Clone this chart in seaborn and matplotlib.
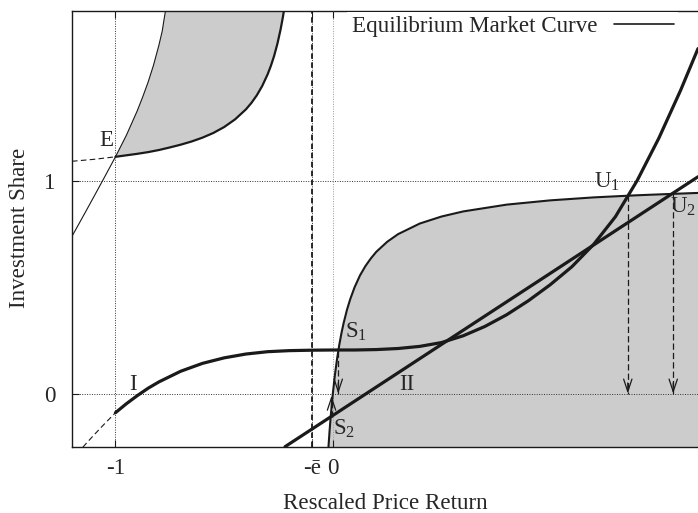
import matplotlib
matplotlib.use('Agg')
import matplotlib.pyplot as plt
import seaborn as sns
from matplotlib.lines import Line2D

# ---------------- data ----------------
ebar = 0.097  # position of the -e_bar asymptote

# thin curve on the left (through E)
c_x = [-1.2, -1.15, -1.1, -1.05, -1.0, -0.95, -0.9, -0.875, -0.85, -0.825, -0.8,
       -0.785, -0.775, -0.76]
c_y = [0.74, 0.832, 0.925, 1.019, 1.114, 1.215, 1.33, 1.395, 1.465, 1.545, 1.64,
       1.705, 1.77, 1.86]

# equilibrium curve, left branch (solid from E upward)
hl_x = [-1.0, -0.95, -0.9, -0.85, -0.8, -0.75, -0.7, -0.65, -0.6, -0.55, -0.5,
        -0.45, -0.4, -0.375, -0.35, -0.325, -0.3, -0.285, -0.27, -0.255, -0.24,
        -0.23, -0.22]
hl_y = [1.114, 1.121, 1.128, 1.136, 1.146, 1.158, 1.171, 1.186, 1.204, 1.226,
        1.254, 1.29, 1.337, 1.367, 1.403, 1.447, 1.502, 1.542, 1.589, 1.646,
        1.715, 1.77, 1.833]
# dashed continuation of the left branch
hd_x = [-1.2, -1.1, -1.0]
hd_y = [1.093, 1.102, 1.114]

# equilibrium curve, right branch
hr_x = [-0.02, -0.015, -0.01, -0.005, 0.0, 0.01, 0.02, 0.03, 0.04, 0.05, 0.065,
        0.08, 0.1, 0.125, 0.15, 0.175, 0.2, 0.25, 0.3, 0.4, 0.5, 0.6, 0.8, 1.0,
        1.2, 1.4, 1.6, 1.68]
hr_y = [-0.25, -0.176, -0.111, -0.053, 0.0, 0.091, 0.167, 0.231, 0.286, 0.333,
        0.394, 0.444, 0.5, 0.556, 0.6, 0.636, 0.667, 0.714, 0.75, 0.8, 0.833,
        0.857, 0.889, 0.909, 0.923, 0.933, 0.941, 0.944]

# curve I (thick)
d_x = [-1.0, -0.95, -0.9, -0.85, -0.8, -0.7, -0.6, -0.5, -0.4, -0.3, -0.2, -0.1,
       0.0, 0.1, 0.2, 0.3, 0.4, 0.5, 0.6, 0.7, 0.8, 0.9, 1.0, 1.1, 1.2, 1.3,
       1.4, 1.5, 1.6, 1.68]
d_y = [-0.09, -0.048, -0.01, 0.025, 0.055, 0.105, 0.142, 0.168, 0.186, 0.197,
       0.202, 0.204, 0.205, 0.205, 0.207, 0.212, 0.222, 0.240, 0.272, 0.316,
       0.371, 0.437, 0.512, 0.597, 0.702, 0.832, 1.002, 1.202, 1.427, 1.623]
# dashed continuation of curve I
dd_x = [-1.15, -1.1, -1.05, -1.0]
dd_y = [-0.252, -0.196, -0.142, -0.09]

# straight line II (thick)
l2_x = [-0.22, 1.68]
l2_y = [-0.25, 1.02]

# dashed arrows (x, start y, end y)
arrow_x = [1.357, 1.566, 0.025, -0.006]
arrow_y0 = [0.932, 0.943, 0.2, -0.108]
arrow_y1 = [0.0, 0.0, 0.0, -0.01]

# point labels
lab_txt = ['E', 'I', 'II', 'S$_1$', 'S$_2$', 'U$_1$', 'U$_2$']
lab_x = [-1.044, -0.918, 0.339, 0.108, 0.05, 1.262, 1.612]
lab_y = [1.193, 0.045, 0.045, 0.29, -0.165, 0.995, 0.88]

xtick_vals = [-1, -ebar, 0]
xtick_labs = ['-1', '-ē', '0']
ytick_vals = [0, 1]
ytick_labs = ['0', '1']

# ---------------- style ----------------
sns.set_theme(style='ticks')
plt.rcParams['font.family'] = ['Liberation Serif', 'DejaVu Serif']
plt.rcParams['mathtext.fontset'] = 'custom'
plt.rcParams['mathtext.rm'] = 'Liberation Serif'
plt.rcParams['mathtext.it'] = 'Liberation Serif:italic'
plt.rcParams['mathtext.default'] = 'rm'
FS = 16.6
GRAY = '#cccccc'

W, H = 698, 513
fig = plt.figure(figsize=(W / 100, H / 100), dpi=100)
ax = fig.add_axes([72 / W, 1 - 446.7 / H, 1 - 72 / W, (446.7 - 11) / H])


def line(x, y, **kw):
    sns.lineplot(x=x, y=y, ax=ax, sort=False, estimator=None, legend=False, **kw)


# shaded regions
ax.fill(c_x[4:] + hl_x[::-1], c_y[4:] + hl_y[::-1], color=GRAY, lw=0, zorder=1)
ax.fill_between(hr_x, hr_y, -0.3, color=GRAY, lw=0, zorder=1)

# asymptote
ax.axvline(-ebar, color='k', lw=1.3, linestyle=(0, (3, 2)), zorder=3)

# curves
line(c_x, c_y, color='k', lw=0.8, zorder=4)
line(hl_x, hl_y, color='k', lw=1.6, zorder=4)
line(hd_x, hd_y, color='k', lw=0.8, linestyle=(0, (5, 3)), zorder=4)
line(hr_x, hr_y, color='k', lw=1.5, zorder=4)
line(d_x, d_y, color='k', lw=2.3, zorder=5)
line(dd_x, dd_y, color='k', lw=0.8, linestyle=(0, (5, 3)), zorder=4)
line(l2_x, l2_y, color='k', lw=2.3, zorder=5)

# dashed arrows
for x, y0, y1 in zip(arrow_x, arrow_y0, arrow_y1):
    line([x, x], [y0, y1], color='k', lw=0.9, linestyle=(0, (5, 2.5)), zorder=4)
    sgn = 1 if y0 > y1 else -1
    ax.annotate('', xy=(x, y1), xytext=(x, y1 + sgn * 0.05),
                arrowprops=dict(arrowstyle='->,head_length=0.45,head_width=0.15',
                                lw=0.9, color='k', shrinkA=0, shrinkB=0,
                                mutation_scale=20), zorder=4)

for t, x, y in zip(lab_txt, lab_x, lab_y):
    ax.text(x, y, t, ha='center', va='center', fontsize=FS, zorder=6)

# axes
ax.set_xlim(-1.2, 1.68)
ax.set_ylim(-0.25, 1.8)
ax.set_xticks(xtick_vals)
ax.set_xticklabels(xtick_labs)
ax.set_yticks(ytick_vals)
ax.set_yticklabels(ytick_labs)
ax.set_axisbelow(False)
ax.grid(True, linestyle=(0, (1, 1.5)), color='#333333', lw=0.7)
ax.xaxis.get_gridlines()[2].set_color('#999999')
ax.tick_params(direction='in', length=5, width=0.8, top=True, right=False,
               labelsize=FS, color='k')
ax.tick_params(axis='x', pad=8)
ax.tick_params(axis='y', pad=12)
for s in ['left', 'bottom', 'top']:
    ax.spines[s].set_linewidth(1.0)
    ax.spines[s].set_color('k')
ax.spines['right'].set_visible(False)

ax.set_xlabel('Rescaled Price Return', fontsize=FS)
ax.xaxis.set_label_coords(0.5, -0.106)
ax.set_ylabel('Investment Share', fontsize=FS)
ax.yaxis.set_label_coords(-0.067, 0.502)

handle = Line2D([], [], color='k', lw=1.2)
leg = ax.legend([handle], ['Equilibrium Market Curve'], loc='upper left',
                bbox_to_anchor=(347.4 / W, 1 - 11.5 / H),
                bbox_transform=fig.transFigure, markerfirst=False,
                frameon=True, fancybox=False, framealpha=1, facecolor='white',
                edgecolor='white', borderpad=0.2, borderaxespad=0,
                handlelength=2.6, handletextpad=0.7, fontsize=FS)
leg.get_frame().set_linewidth(0)

fig.savefig('out.png', dpi=100)
